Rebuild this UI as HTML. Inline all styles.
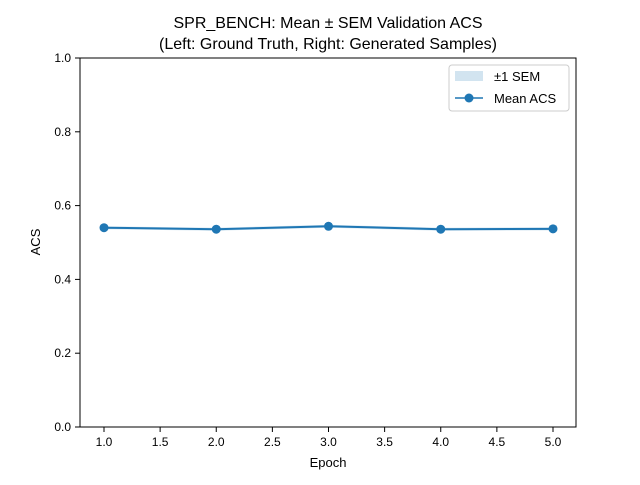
<!DOCTYPE html>
<html><head><meta charset="utf-8"><style>body{margin:0;background:#fff}svg{font-family:"Liberation Sans","DejaVu Sans",sans-serif}</style></head>
<body>
<svg id="chart" width="640" height="480" viewBox="0 0 640 480" xmlns="http://www.w3.org/2000/svg">
<rect width="640" height="480" fill="#fff"/>
<text x="328" y="28" text-anchor="middle" font-size="16">SPR_BENCH: Mean ± SEM Validation ACS</text>
<text x="328" y="49" text-anchor="middle" font-size="16">(Left: Ground Truth, Right: Generated Samples)</text>
<g id="plot"></g>
<rect x="80" y="58" width="496" height="369" fill="none" stroke="#000" stroke-width="1"/>
<text x="328" y="467" text-anchor="middle" font-size="13">Epoch</text>
<text transform="translate(40,242) rotate(-90)" text-anchor="middle" font-size="13">ACS</text>
<g>
<rect x="449" y="65" width="120" height="46" rx="3" fill="#fff" stroke="#ccc"/>
<rect x="455" y="71" width="28" height="10" fill="#1f77b4" fill-opacity="0.2"/>
<text x="494" y="81" font-size="13">±1 SEM</text>
<line x1="455" y1="98" x2="483" y2="98" stroke="#1f77b4" stroke-width="1.5"/>
<circle cx="469" cy="98" r="4.5" fill="#1f77b4"/>
<text x="494" y="103" font-size="13">Mean ACS</text>
</g>
</svg>
<script>
const epochs=[1,2,3,4,5];
const meanACS=[0.540,0.536,0.544,0.536,0.537];
const semACS=[0.004,0.004,0.004,0.004,0.004];
const xTicks=[1.0,1.5,2.0,2.5,3.0,3.5,4.0,4.5,5.0];
const yTicks=[0.0,0.2,0.4,0.6,0.8,1.0];
const NS="http://www.w3.org/2000/svg";
const X=v=>104+(v-1)*(553-104)/4;
const Y=v=>427-v*369;
const g=document.getElementById('plot');
function mk(t,a){const e=document.createElementNS(NS,t);for(const k in a)e.setAttribute(k,a[k]);g.appendChild(e);return e;}
xTicks.forEach(t=>{mk('line',{x1:X(t),x2:X(t),y1:427,y2:432,stroke:'#000'});
const e=mk('text',{x:X(t),y:446,'text-anchor':'middle','font-size':12});e.textContent=t.toFixed(1);

});
yTicks.forEach(t=>{mk('line',{x1:75,x2:80,y1:Y(t),y2:Y(t),stroke:'#000'});
const e=mk('text',{x:71,y:Y(t)+4,'text-anchor':'end','font-size':12});e.textContent=t.toFixed(1);

});
let up=epochs.map((e,i)=>X(e)+','+Y(meanACS[i]+semACS[i]));
let dn=epochs.map((e,i)=>X(e)+','+Y(meanACS[i]-semACS[i])).reverse();
const band=mk('polygon',{points:up.concat(dn).join(' '),fill:'#1f77b4','fill-opacity':0.2});


const line=mk('polyline',{points:epochs.map((e,i)=>X(e)+','+Y(meanACS[i])).join(' '),fill:'none',stroke:'#1f77b4','stroke-width':2});


epochs.forEach((e,i)=>{const c=mk('circle',{cx:X(e),cy:Y(meanACS[i]),r:4.5,fill:'#1f77b4'});

});
</script>
</body></html>
